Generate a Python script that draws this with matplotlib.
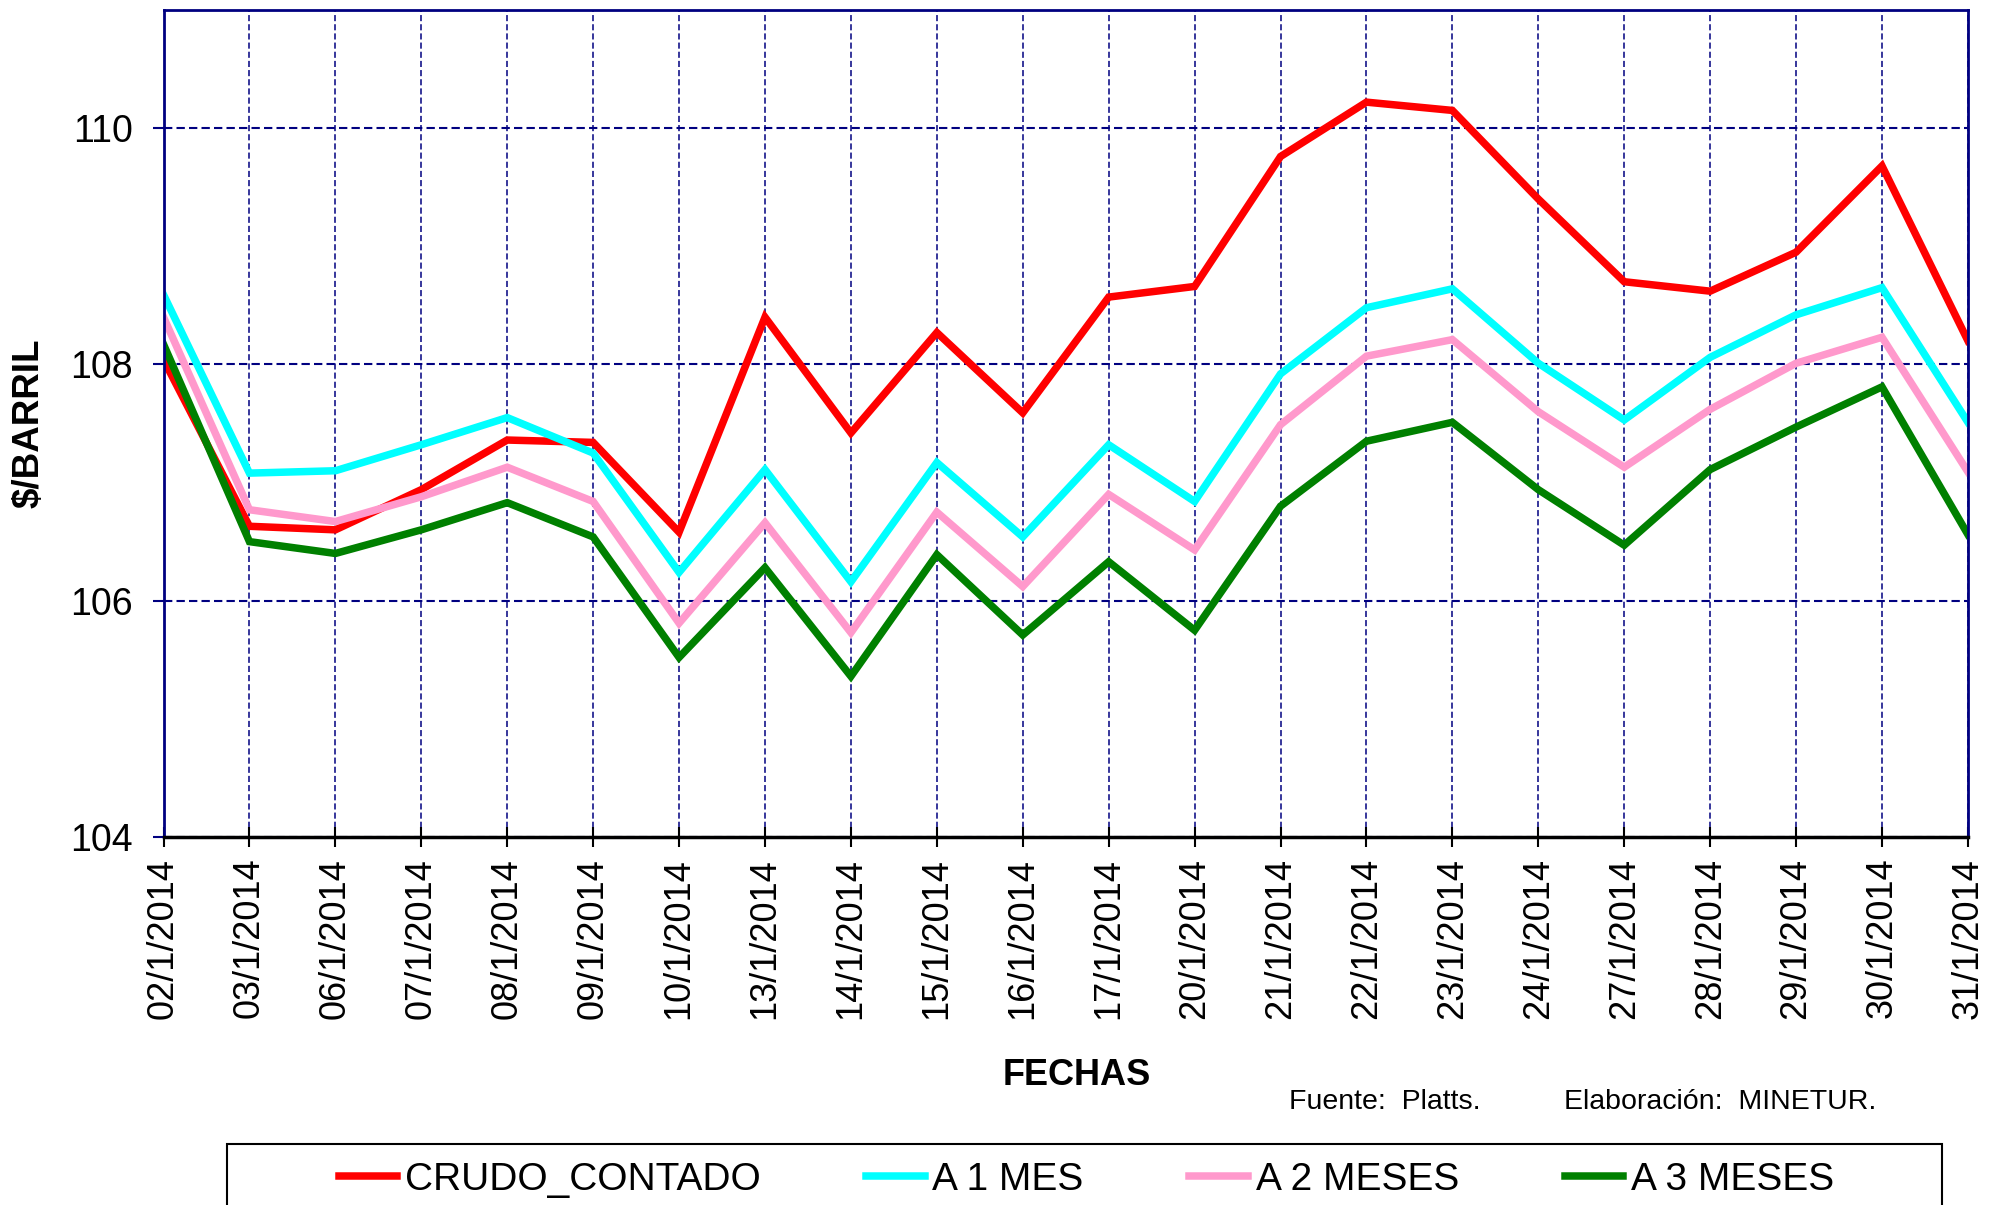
#Brent crude spot and forward prices, January 2014
import matplotlib
matplotlib.use('Agg')
import matplotlib.pyplot as plt
from matplotlib.patches import Rectangle

plt.rcParams['font.family'] = ['Liberation Sans', 'DejaVu Sans']

#Data
fechas = ['02/1/2014', '03/1/2014', '06/1/2014', '07/1/2014', '08/1/2014', '09/1/2014',
          '10/1/2014', '13/1/2014', '14/1/2014', '15/1/2014', '16/1/2014', '17/1/2014',
          '20/1/2014', '21/1/2014', '22/1/2014', '23/1/2014', '24/1/2014', '27/1/2014',
          '28/1/2014', '29/1/2014', '30/1/2014', '31/1/2014']
crudo_contado = [108.04, 106.63, 106.60, 106.94, 107.36, 107.34, 106.58, 108.40, 107.42, 108.27, 107.59,
                 108.57, 108.66, 109.76, 110.22, 110.15, 109.40, 108.70, 108.62, 108.95, 109.68, 108.20]
a_1_mes = [108.59, 107.08, 107.10, 107.32, 107.55, 107.25, 106.24, 107.11, 106.16, 107.17, 106.54,
           107.32, 106.84, 107.92, 108.48, 108.64, 108.01, 107.53, 108.06, 108.42, 108.65, 107.51]
a_2_meses = [108.40, 106.77, 106.67, 106.88, 107.13, 106.84, 105.81, 106.66, 105.73, 106.75, 106.12,
             106.90, 106.43, 107.49, 108.07, 108.21, 107.60, 107.13, 107.62, 108.01, 108.23, 107.09]
a_3_meses = [108.17, 106.50, 106.40, 106.60, 106.83, 106.54, 105.52, 106.28, 105.36, 106.39, 105.71,
             106.33, 105.75, 106.80, 107.35, 107.51, 106.94, 106.47, 107.11, 107.47, 107.81, 106.56]
series = ['CRUDO_CONTADO', 'A 1 MES', 'A 2 MESES', 'A 3 MESES']
colores = ['#FF0000', '#00FFFF', '#FF99CC', '#008000']

navy = '#000080'

fig = plt.figure(figsize=(20.04, 12.05), dpi=100)
ax = fig.add_axes([0.0816, 0.3054, 0.9004, 0.6863])

x = list(range(len(fechas)))
for vals, nombre, c in zip([crudo_contado, a_1_mes, a_2_meses, a_3_meses], series, colores):
    ax.plot(x, vals, color=c, lw=5.4, label=nombre, solid_joinstyle='miter')

ax.set_xlim(0, len(fechas) - 1)
ax.set_ylim(104, 111)
ax.set_yticks([104, 106, 108, 110])
ax.set_xticks(x)
ax.set_xticklabels(fechas, rotation=90, fontsize=26)
ax.tick_params(axis='y', labelsize=27, length=8, width=1.5, color=navy, pad=14)
ax.tick_params(axis='x', direction='inout', length=14, width=1.5, color='black', pad=8)

#Grid
ax.set_axisbelow(True)
ax.yaxis.grid(True, color=navy, lw=1.5, dashes=(4, 2))
ax.xaxis.grid(True, color=navy, lw=1.1, dashes=(4, 2))

for s in ['left', 'top', 'right']:
    ax.spines[s].set_color(navy)
    ax.spines[s].set_linewidth(2)
ax.spines['bottom'].set_color('black')
ax.spines['bottom'].set_linewidth(2.5)

ax.set_ylabel('$/BARRIL', fontsize=26.5, fontweight='bold')
ax.yaxis.set_label_coords(-0.065, 0.5)
ax.set_xlabel('FECHAS', fontsize=26, fontweight='bold', va='center')
ax.xaxis.set_label_coords(0.506, -0.289)

fig.text(0.643, 0.0855, 'Fuente:  Platts.', fontsize=20.5, va='center')
fig.text(0.7805, 0.0855, 'Elaboración:  MINETUR.', fontsize=20.5, va='center')

#Legend, box cut by the bottom of the figure
leg = fig.legend(loc='center left', bbox_to_anchor=(0.169, 1 - 1180 / 1205), ncol=4,
                 frameon=False, fontsize=28, handlelength=1.5, handletextpad=0.2,
                 columnspacing=2.72, borderpad=0, borderaxespad=0)
for h in leg.get_lines():
    h.set_linewidth(5.4)
fig.add_artist(Rectangle((227 / 2004, -0.05), (1942 - 227) / 2004, 0.05 + 1 - 1144 / 1205,
                         transform=fig.transFigure, fill=False, edgecolor='black', lw=1.5))

plt.savefig('out.png', dpi=100)
